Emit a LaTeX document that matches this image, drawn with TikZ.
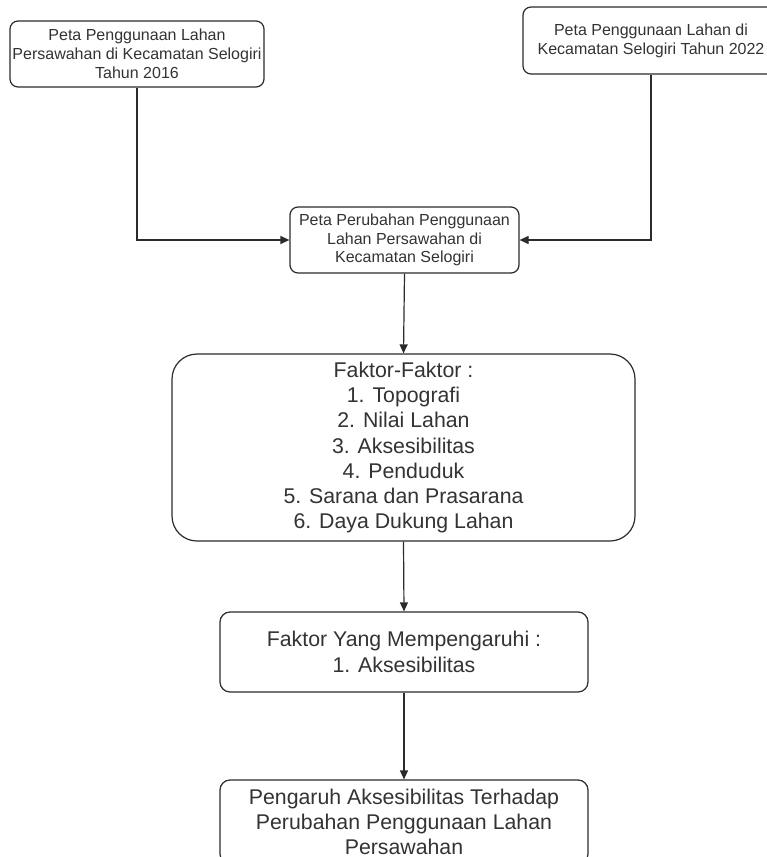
\documentclass[tikz,border=0pt]{standalone}
\usepackage{fontspec}
\setmainfont{Liberation Sans}
\usetikzlibrary{arrows.meta}
\definecolor{txt}{HTML}{333333}
\definecolor{ln}{HTML}{2B2B2B}
\tikzset{
  box/.style={draw=ln, line width=1.2pt, fill=white, align=center, text=txt, inner sep=0pt},
  small/.style={font=\fontsize{16}{18.8}\selectfont},
  big/.style={font=\fontsize{21.3}{25.3}\selectfont},
  conn/.style={draw=ln, line width=1.2pt, -{Triangle[length=9pt,width=8pt]}}
}
\begin{document}
\begin{tikzpicture}[x=1pt,y=-1pt]
\useasboundingbox (0,0) rectangle (767,857);
\clip (0,0) rectangle (767,857);
\node[box, small, rounded corners=8pt, minimum width=254pt, minimum height=66pt] (b1) at (137,54)
  {Peta Penggunaan Lahan\\Persawahan di Kecamatan Selogiri\\Tahun 2016};
\node[box, small, rounded corners=8pt, minimum width=256pt, minimum height=67pt] (b2) at (651,40.5)
  {Peta Penggunaan Lahan di\\Kecamatan Selogiri Tahun 2022};
\node[box, small, rounded corners=8pt, minimum width=229pt, minimum height=66pt] (b3) at (404.5,240)
  {Peta Perubahan Penggunaan\\Lahan Persawahan di\\Kecamatan Selogiri};
\node[box, big, rounded corners=25pt, minimum width=463pt, minimum height=187pt] (b4) at (403.5,447.5)
  {Faktor-Faktor :\\1. Topografi\\2. Nilai Lahan\\3. Aksesibilitas\\4. Penduduk\\5. Sarana dan Prasarana\\6. Daya Dukung Lahan};
\node[box, big, rounded corners=10pt, minimum width=368pt, minimum height=80pt] (b5) at (404,652)
  {Faktor Yang Mempengaruhi :\\1. Aksesibilitas};
\node[box, big, rounded corners=10pt, minimum width=368pt, minimum height=84pt] (b6) at (404,822)
  {Pengaruh Aksesibilitas Terhadap\\Perubahan Penggunaan Lahan\\Persawahan};
\draw[conn] (b1.south) |- (b3.west);
\draw[conn] (b2.south) |- (b3.east);
\draw[conn] (b3.south) -- (b4.north);
\draw[conn] (b4.south) -- (b5.north);
\draw[conn] (b5.south) -- (b6.north);
\end{tikzpicture}
\end{document}
